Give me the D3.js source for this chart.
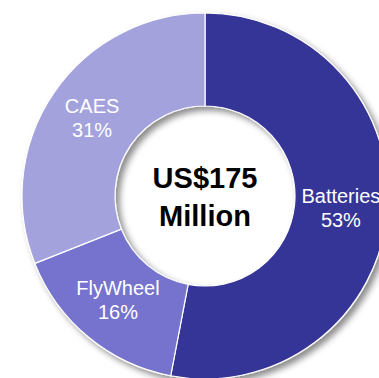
<!DOCTYPE html>
<html>
<head>
<meta charset="utf-8">
<script src="https://cdn.jsdelivr.net/npm/d3@7"></script>
<style>
  body { margin: 0; background: #fff; }
  text { font-family: "Liberation Sans", Arial, sans-serif; }
</style>
</head>
<body>
<div id="chart"></div>
<script>
var labels = ["Batteries", "FlyWheel", "CAES"]
var shares = [53, 16, 31]
var colors = ["#363497", "#7473cd", "#a3a2dd"]
var centerLines = ["US$175", "Million"]

var width = 379, height = 378
var cx = 205, cy = 196
var outer = 183, inner = 90

var data = labels.map(function(d, i) { return {label: d, value: shares[i], color: colors[i]} })

var svg = d3.select("#chart")
  .append("svg")
  .attr("width", width)
  .attr("height", height)

var defs = svg.append("defs")
var f = defs.append("filter")
  .attr("id", "shadow")
  .attr("x", "-20%").attr("y", "-20%")
  .attr("width", "140%").attr("height", "140%")
f.append("feDropShadow")
  .attr("dx", 4).attr("dy", 4)
  .attr("stdDeviation", 3)
  .attr("flood-color", "#000")
  .attr("flood-opacity", 0.45)

var g = svg.append("g")
  .attr("transform", "translate(" + cx + "," + cy + ")")

var pie = d3.pie()
  .value(function(d) { return d.value })
  .sort(null)

var arc = d3.arc()
  .innerRadius(inner)
  .outerRadius(outer)

var labelArc = d3.arc()
  .innerRadius((inner + outer) / 2)
  .outerRadius((inner + outer) / 2)

// the ring with its drop shadow
g.append("g")
  .attr("filter", "url(#shadow)")
  .selectAll("path")
  .data(pie(data))
  .enter()
  .append("path")
  .attr("d", arc)
  .style("fill", function(d) { return d.data.color })
  .style("stroke", "#fff")
  .style("stroke-width", 1.2)

// slice labels
var lab = g.selectAll(".slice-label")
  .data(pie(data))
  .enter()
  .append("text")
  .attr("class", "slice-label")
  .attr("text-anchor", "middle")
  .attr("transform", function(d) {
    var c = labelArc.centroid(d)
    return "translate(" + c[0] + "," + (c[1] - 6) + ")"
  })
  .style("fill", "#fff")
  .style("font-size", "20px")

lab.append("tspan")
  .attr("x", 0)
  .text(function(d) { return d.data.label })
lab.append("tspan")
  .attr("x", 0)
  .attr("dy", 24)
  .text(function(d) { return d.data.value + "%" })

// center title
g.selectAll(".center")
  .data(centerLines)
  .enter()
  .append("text")
  .attr("class", "center")
  .attr("text-anchor", "middle")
  .attr("x", 0)
  .attr("y", function(d, i) { return -8 + i * 38 })
  .style("font-size", "29px")
  .style("font-weight", "bold")
  .style("fill", "#000")
  .text(function(d) { return d })
</script>
</body>
</html>
